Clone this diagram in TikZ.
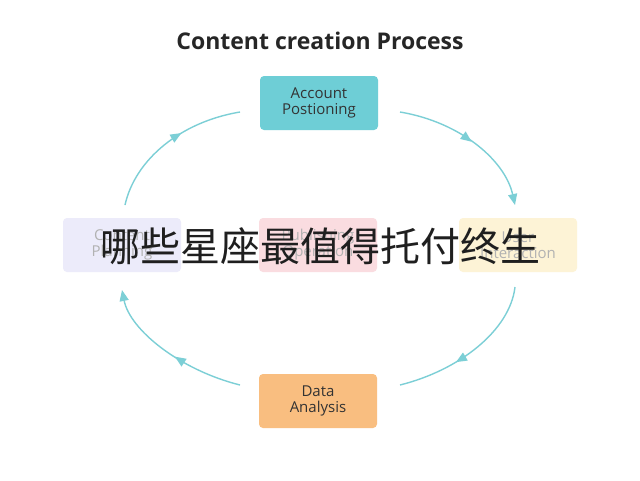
\documentclass[tikz,border=0pt]{standalone}
\usepackage{fontspec}
\setmainfont{Open Sans}
\newfontfamily\cjk{Noto Sans CJK SC}
\usetikzlibrary{decorations.markings,arrows.meta}
\definecolor{arr}{HTML}{7CCFD6}
\begin{document}
\begin{tikzpicture}[x=1pt,y=-1pt,
 box/.style={rounded corners=4pt,minimum width=118pt,minimum height=54pt,align=center,font=\fontsize{15}{16}\selectfont,text=black!80},
 faded/.style={box,text=black!30},
 tip/.style={-{Triangle[length=11pt,width=9pt]}},
 con/.style={draw=arr,line width=1.4pt,postaction={decorate},
   decoration={markings,mark=at position #1 with {\arrow[arr]{Triangle[length=11pt,width=9pt]}}}}]
\path[fill=white] (0,0) rectangle (640,480);
\node[font=\bfseries\fontsize{23}{25}\selectfont,text=black!85] (title) at (320,41) {Content creation Process};
\node[box,fill={rgb,255:red,110;green,206;blue,214}] (acc) at (319,103) {Account\\Postioning};
\node[box,fill={rgb,255:red,249;green,190;blue,128}] (data) at (318,401) {Data\\Analysis};
\node[faded,fill={rgb,255:red,236;green,235;blue,250}] (plan) at (122,245) {Content\\Planning};
\node[faded,fill={rgb,255:red,250;green,220;blue,224}] (pub) at (318,245) {Publishing\\Operation};
\node[faded,fill={rgb,255:red,253;green,243;blue,214}] (user) at (518,245) {User\\Interaction};
\coordinate (a1) at (400,112); \coordinate (a2) at (515,205);
\coordinate (b1) at (515,287); \coordinate (b2) at (400,385);
\coordinate (c1) at (240,385); \coordinate (c2) at (122,290);
\coordinate (d1) at (125,205); \coordinate (d2) at (240,112);
\draw[con=0.5,arr,tip] (a1) .. controls (460,122) and (505,160) .. (a2);
\draw[con=0.62] (b1) .. controls (510,330) and (460,370) .. (b2);
\draw[con=0.45,arr,tip] (c1) .. controls (180,370) and (130,330) .. (c2);
\draw[con=0.6] (d1) .. controls (135,160) and (180,122) .. (d2);
\node[font=\cjk\fontsize{40}{42}\selectfont,text=black!88] (wm) at (320,246) {哪些星座最值得托付终生};
\end{tikzpicture}
\end{document}
